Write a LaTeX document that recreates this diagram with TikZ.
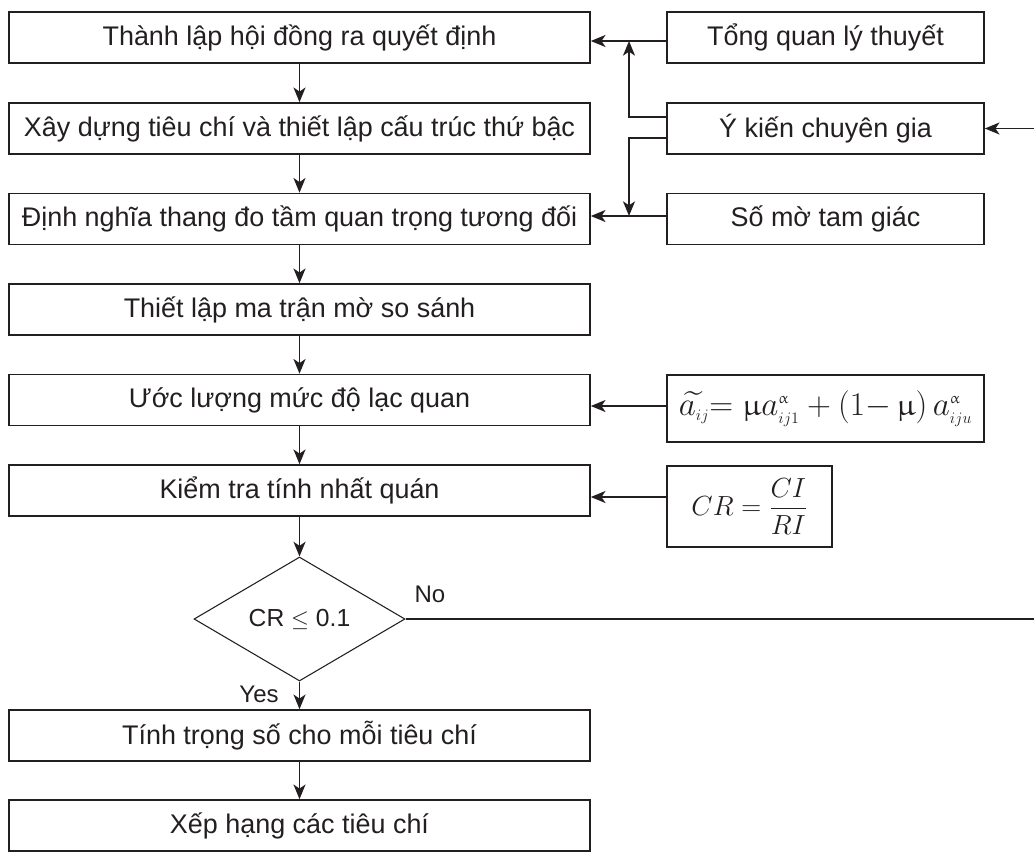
\documentclass[tikz,border=0pt]{standalone}
\usepackage{fontspec}
\setmainfont{Liberation Sans}
\usepackage{amsmath}
\usepackage{upgreek}
\usetikzlibrary{shapes.geometric,arrows.meta}
\definecolor{ink}{RGB}{35,31,32}
\begin{document}
\begin{tikzpicture}[x=0.75pt,y=-0.75pt,
  box/.style={draw=ink,line width=1.2pt,rectangle,inner sep=0pt,minimum height=38.25pt,text=ink,font=\fontsize{20.2}{24}\selectfont},
  lbox/.style={box,minimum width=435.75pt},
  rbox/.style={box,minimum width=237.75pt},
  fbox/.style={box,font=\fontsize{23}{27}\selectfont},
  dec/.style={draw=ink,line width=0.8pt,diamond,inner sep=0pt,minimum width=158.25pt,minimum height=93pt,text=ink,font=\fontsize{18.5}{22}\selectfont},
  arr/.style={draw=ink,line width=1.3pt,-{Stealth[length=11pt,width=9pt,inset=3pt]}},
  ln/.style={draw=ink,line width=1.3pt},
  lab/.style={text=ink,font=\fontsize{18}{21}\selectfont,inner sep=0pt}]
\useasboundingbox (0,0) rectangle (1034,860);

\node[lbox] (b1) at (299.5,37.5) {Thành lập hội đồng ra quyết định};
\node[lbox] (b2) at (299.5,128.5) {Xây dựng tiêu chí và thiết lập cấu trúc thứ bậc};
\node[lbox] (b3) at (299.5,219) {Định nghĩa thang đo tầm quan trọng tương đối};
\node[lbox] (b4) at (299.5,309.5) {Thiết lập ma trận mờ so sánh};
\node[lbox] (b5) at (299.5,400) {Ước lượng mức độ lạc quan};
\node[lbox] (b6) at (299.5,490.5) {Kiểm tra tính nhất quán};
\node[dec] (d) at (299.5,619) {CR $\leq$ 0.1};
\node[lbox] (b7) at (299.5,735.5) {Tính trọng số cho mỗi tiêu chí};
\node[lbox] (b8) at (299.5,825.5) {Xếp hạng các tiêu chí};

\node[rbox] (r1) at (825.5,37.5) {Tổng quan lý thuyết};
\node[rbox] (r2) at (825.5,128.5) {Ý kiến chuyên gia};
\node[rbox] (r3) at (825.5,219) {Số mờ tam giác};
\node[fbox,minimum width=237.75pt,minimum height=50.25pt] (f1) at (825.5,408.5)
  {$\widetilde{a_{\scriptscriptstyle ij}}{=}\;\upmu a^{\scriptscriptstyle\upalpha}_{\scriptscriptstyle ij1} + (1{-}\,\upmu)\, a^{\scriptscriptstyle\upalpha}_{\scriptscriptstyle iju}$};
\node[fbox,minimum width=123.75pt,minimum height=60.75pt,font=\fontsize{22.5}{26}\selectfont] (f2) at (749.5,506.5)
  {$\displaystyle CR = \frac{CI}{RI}$};

\foreach \a/\b in {b1/b2,b2/b3,b3/b4,b4/b5,b5/b6,b6/d,d/b7,b7/b8}
  \draw[arr] (\a) -- (\b);

\coordinate (j) at (629,0);
\coordinate (e1) at (1034,128.5);
\coordinate (e2) at (1034,619);

\draw[arr] (r1.west |- 0,41) -- (b1.east |- 0,41);
\draw[arr] (r2.west |- 0,117) -| (j |- 0,41);
\draw[arr] (r2.west |- 0,138) -| (j |- 0,216);
\draw[arr] (r3.west |- 0,216) -- (b3.east |- 0,216);
\draw[arr] (e1) -- (r2.east);
\draw[arr] (f1.west |- 0,406) -- (b5.east |- 0,406);
\draw[arr] (f2.west |- 0,497) -- (b6.east |- 0,497);
\draw[ln] (d.east) -- (e2);

\node[lab] (no) at (430,594) {No};
\node[lab] (yes) at (259,694) {Yes};
\end{tikzpicture}
\end{document}
